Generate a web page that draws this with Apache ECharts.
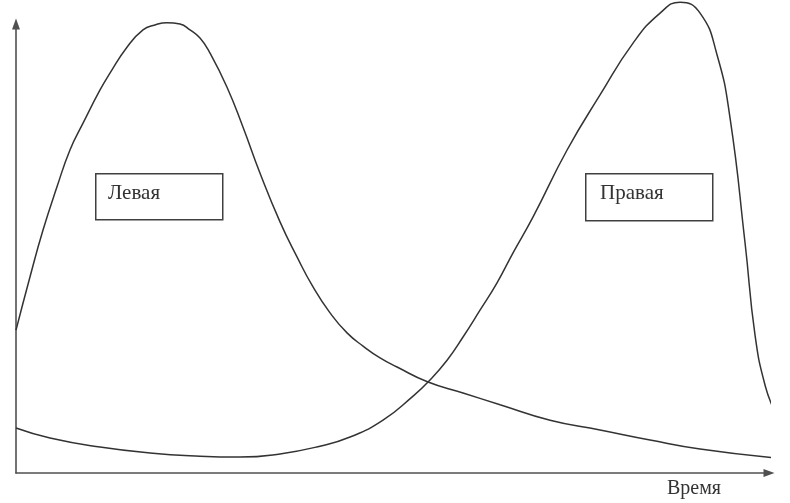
<!DOCTYPE html>
<html>
<head>
<meta charset="utf-8">
<script src="https://cdn.jsdelivr.net/npm/echarts@6/dist/echarts.min.js"></script>
<style>
  html, body { margin: 0; padding: 0; background: #ffffff; }
  #chart { width: 790px; height: 503px; }
</style>
</head>
<body>
<div id="chart"></div>
<script>
// Left curve ("Левая")
var timeLeft   = [0, 1.84, 3.56, 5.40, 7.11, 8.83, 11.07, 12.38, 14.62, 16.73, 18.31, 19.89, 21.61, 22.92, 24.24, 25.56, 27.80, 29.91, 32.15, 34.78, 37.02, 39.13, 41.37, 43.61, 45.72, 47.96, 50.20, 54.28, 58.89, 63.77, 70.36, 76.94, 83.53, 90.12, 100];
var valuesLeft = [31.4, 43.1, 53.4, 62.9, 71.0, 76.9, 84.2, 87.9, 93.6, 97.4, 98.5, 99.0, 98.7, 97.4, 95.6, 92.3, 84.8, 76.0, 65.9, 55.2, 47.5, 40.9, 35.2, 30.8, 27.9, 25.3, 23.3, 20.0, 17.6, 15.0, 11.6, 9.45, 7.25, 5.27, 3.3];
// Right curve ("Правая")
var timeRight   = [0, 4.48, 11.07, 17.65, 24.24, 29.51, 34.78, 40.05, 44.01, 48.35, 52.31, 54.28, 56.79, 58.89, 61.13, 63.37, 65.48, 68.12, 72.60, 76.94, 81.29, 84.85, 87.48, 90.12, 92.36, 94.07, 96.05, 97.36, 98.68, 100];
var valuesRight = [9.9, 7.7, 5.7, 4.4, 3.7, 3.5, 4.2, 5.9, 7.9, 11.6, 16.9, 20.0, 24.8, 29.9, 35.8, 41.8, 48.4, 56.3, 71.0, 83.1, 94.5, 101.1, 103.5, 101.1, 91.9, 78.0, 50.5, 30.3, 19.3, 13.4];
// Texts
var labelLeft = 'Левая';
var labelRight = 'Правая';
var axisName = 'Время';

function pairs(xs, ys) {
  return xs.map(function (x, i) { return [x, ys[i]]; });
}

var chart = echarts.init(document.getElementById('chart'));
var serif = '"Liberation Serif", "DejaVu Serif", serif';
var axisLineCfg = {
  show: true,
  symbol: ['none', 'triangle'],
  symbolSize: [8, 11],
  lineStyle: { color: '#505050', width: 1.6 }
};

chart.setOption({
  backgroundColor: '#ffffff',
  animation: false,
  grid: { left: 16, right: 21, top: 24, bottom: 30 },
  xAxis: {
    type: 'value', min: 0, max: 99.2,
    axisLine: axisLineCfg,
    axisTick: { show: false }, axisLabel: { show: false }, splitLine: { show: false },
    name: axisName,
    nameLocation: 'end',
    nameGap: -48,
    nameTextStyle: {
      fontFamily: serif, fontSize: 20, color: '#333333',
      align: 'right', verticalAlign: 'top', padding: [6, 0, 0, 0]
    }
  },
  yAxis: {
    type: 'value', min: 0, max: 98.7,
    axisLine: axisLineCfg,
    axisTick: { show: false }, axisLabel: { show: false }, splitLine: { show: false }
  },
  series: [
    {
      name: labelLeft, type: 'line', data: pairs(timeLeft, valuesLeft),
      smooth: 0.5, symbol: 'none', clip: false,
      lineStyle: { color: '#333333', width: 1.5 }
    },
    {
      name: labelRight, type: 'line', data: pairs(timeRight, valuesRight),
      smooth: 0.5, symbol: 'none', clip: false,
      lineStyle: { color: '#333333', width: 1.5 }
    }
  ],
  graphic: [
    {
      type: 'rect', left: 95, top: 173,
      shape: { width: 127, height: 46 },
      style: { fill: '#ffffff', stroke: '#404040', lineWidth: 1.5 }
    },
    {
      type: 'text', left: 108, top: 183,
      style: { text: labelLeft, font: '21px ' + serif, fill: '#333333' }
    },
    {
      type: 'rect', left: 585, top: 173,
      shape: { width: 127, height: 47 },
      style: { fill: '#ffffff', stroke: '#404040', lineWidth: 1.5 }
    },
    {
      type: 'text', left: 600, top: 183,
      style: { text: labelRight, font: '21px ' + serif, fill: '#333333' }
    }
  ]
});
</script>
</body>
</html>
